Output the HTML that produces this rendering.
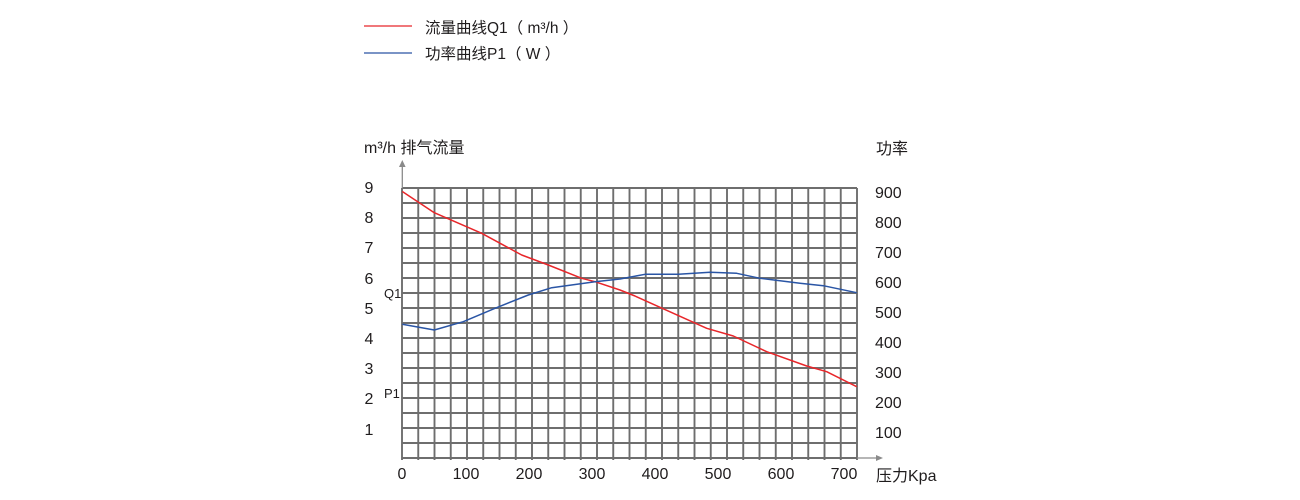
<!DOCTYPE html>
<html>
<head>
<meta charset="utf-8">
<style>
  html, body { margin: 0; padding: 0; background: #ffffff; }
  svg { display: block; }
  text { font-family: "Liberation Sans", "Noto Sans CJK SC", sans-serif; fill: #1f1c1d; }
</style>
</head>
<body>
<svg width="1300" height="500" viewBox="0 0 1300 500" xmlns="http://www.w3.org/2000/svg">
  <rect width="1300" height="500" fill="#ffffff"/>

  <line x1="364" y1="26" x2="412" y2="26" stroke="#e8262a" stroke-width="1.3"/>
  <text x="425" y="33" font-size="15.5">流量曲线Q1（ m³/h ）</text>
  <line x1="364" y1="53" x2="412" y2="53" stroke="#2a55a5" stroke-width="1.3"/>
  <text x="425" y="59" font-size="15.5">功率曲线P1（ W ）</text>

  <text x="364" y="153" font-size="16">m³/h 排气流量</text>
  <text x="876" y="154" font-size="16">功率</text>
  <text x="876" y="481" font-size="16">压力Kpa</text>

  <g stroke="#6e6e6e" stroke-width="1.9" fill="none">
    <line x1="402" y1="188" x2="857" y2="188"/>
    <line x1="402" y1="203" x2="857" y2="203"/>
    <line x1="402" y1="218" x2="857" y2="218"/>
    <line x1="402" y1="233" x2="857" y2="233"/>
    <line x1="402" y1="248" x2="857" y2="248"/>
    <line x1="402" y1="263" x2="857" y2="263"/>
    <line x1="402" y1="278" x2="857" y2="278"/>
    <line x1="402" y1="293" x2="857" y2="293"/>
    <line x1="402" y1="308" x2="857" y2="308"/>
    <line x1="402" y1="323" x2="857" y2="323"/>
    <line x1="402" y1="338" x2="857" y2="338"/>
    <line x1="402" y1="353" x2="857" y2="353"/>
    <line x1="402" y1="368" x2="857" y2="368"/>
    <line x1="402" y1="383" x2="857" y2="383"/>
    <line x1="402" y1="398" x2="857" y2="398"/>
    <line x1="402" y1="413" x2="857" y2="413"/>
    <line x1="402" y1="428" x2="857" y2="428"/>
    <line x1="402" y1="443" x2="857" y2="443"/>
    <line x1="402" y1="458" x2="857" y2="458"/>
    <line x1="402" y1="188" x2="402" y2="460"/>
    <line x1="418.25" y1="188" x2="418.25" y2="460"/>
    <line x1="434.5" y1="188" x2="434.5" y2="460"/>
    <line x1="450.75" y1="188" x2="450.75" y2="460"/>
    <line x1="467" y1="188" x2="467" y2="460"/>
    <line x1="483.25" y1="188" x2="483.25" y2="460"/>
    <line x1="499.5" y1="188" x2="499.5" y2="460"/>
    <line x1="515.75" y1="188" x2="515.75" y2="460"/>
    <line x1="532" y1="188" x2="532" y2="460"/>
    <line x1="548.25" y1="188" x2="548.25" y2="460"/>
    <line x1="564.5" y1="188" x2="564.5" y2="460"/>
    <line x1="580.75" y1="188" x2="580.75" y2="460"/>
    <line x1="597" y1="188" x2="597" y2="460"/>
    <line x1="613.25" y1="188" x2="613.25" y2="460"/>
    <line x1="629.5" y1="188" x2="629.5" y2="460"/>
    <line x1="645.75" y1="188" x2="645.75" y2="460"/>
    <line x1="662" y1="188" x2="662" y2="460"/>
    <line x1="678.25" y1="188" x2="678.25" y2="460"/>
    <line x1="694.5" y1="188" x2="694.5" y2="460"/>
    <line x1="710.75" y1="188" x2="710.75" y2="460"/>
    <line x1="727" y1="188" x2="727" y2="460"/>
    <line x1="743.25" y1="188" x2="743.25" y2="460"/>
    <line x1="759.5" y1="188" x2="759.5" y2="460"/>
    <line x1="775.75" y1="188" x2="775.75" y2="460"/>
    <line x1="792" y1="188" x2="792" y2="460"/>
    <line x1="808.25" y1="188" x2="808.25" y2="460"/>
    <line x1="824.5" y1="188" x2="824.5" y2="460"/>
    <line x1="840.75" y1="188" x2="840.75" y2="460"/>
    <line x1="857" y1="188" x2="857" y2="460"/>
  </g>

  <g stroke="#8a8a8a" stroke-width="1.3" fill="none">
    <line x1="402.3" y1="166" x2="402.3" y2="188"/>
    <line x1="857" y1="458" x2="877" y2="458"/>
  </g>
  <polygon points="402.3,160 399,167 405.6,167" fill="#8a8a8a"/>
  <polygon points="883,458 876,455 876,461" fill="#8a8a8a"/>

  <g font-size="16" text-anchor="middle">
    <text x="369" y="193">9</text>
    <text x="369" y="223">8</text>
    <text x="369" y="253">7</text>
    <text x="369" y="284">6</text>
    <text x="369" y="314">5</text>
    <text x="369" y="344">4</text>
    <text x="369" y="374">3</text>
    <text x="369" y="404">2</text>
    <text x="369" y="435">1</text>
  </g>
  <text x="384" y="298" font-size="13">Q1</text>
  <text x="384" y="398" font-size="13">P1</text>

  <g font-size="16">
    <text x="875" y="198">900</text>
    <text x="875" y="228">800</text>
    <text x="875" y="258">700</text>
    <text x="875" y="288">600</text>
    <text x="875" y="318">500</text>
    <text x="875" y="348">400</text>
    <text x="875" y="378">300</text>
    <text x="875" y="408">200</text>
    <text x="875" y="438">100</text>
  </g>

  <g font-size="16" text-anchor="middle">
    <text x="402" y="479">0</text>
    <text x="466" y="479">100</text>
    <text x="529" y="479">200</text>
    <text x="592" y="479">300</text>
    <text x="655" y="479">400</text>
    <text x="718" y="479">500</text>
    <text x="781" y="479">600</text>
    <text x="844" y="479">700</text>
  </g>

  <polyline fill="none" stroke="#e8262a" stroke-width="1.5" stroke-linejoin="round"
    points="402.3,191.5 434.3,212.7 481.7,233.3 521.7,255 548.3,265 581.7,278.3 595,281.7 620,290 635,296 660,307.3 706.7,328.3 733.3,336 766.7,351.7 806.7,366 826.7,371.7 856.7,386.7"/>
  <polyline fill="none" stroke="#2a55a5" stroke-width="1.5" stroke-linejoin="round"
    points="402.3,324.3 434.3,330 463.3,321.7 495,308.3 528.3,295 551.7,287.7 595,281.7 620,279 645,274.3 678.3,274.3 710,272.3 736.7,273.3 760,278.3 800,283.3 823.3,285.7 856.7,292.7"/>
</svg>
</body>
</html>
